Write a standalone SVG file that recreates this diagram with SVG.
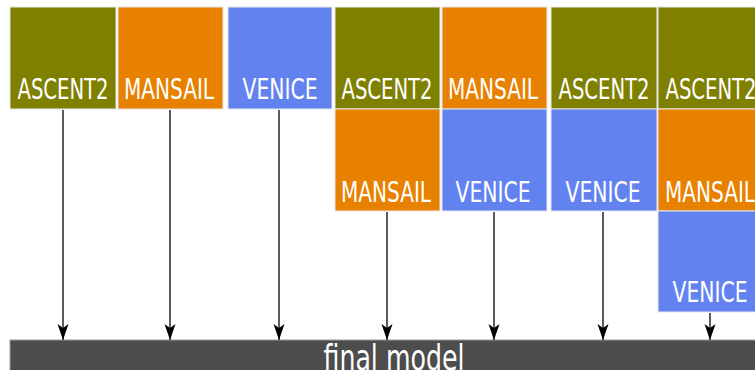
<svg xmlns="http://www.w3.org/2000/svg" width="755" height="370" viewBox="0 0 755 370">
<style>
.box{stroke:#e8e8e8;stroke-width:1}
.a{fill:#7f7f00}.m{fill:#e88000}.v{fill:#6282ef}
.t{font-family:"DejaVu Sans Condensed","DejaVu Sans",sans-serif;font-stretch:condensed;font-size:28px;fill:#fff;text-anchor:middle}
.c{stroke:#333;stroke-width:1.6;fill:none;marker-end:url(#ah)}
</style>
<defs>
<marker id="ah" markerUnits="userSpaceOnUse" markerWidth="18" markerHeight="12" refX="16" refY="5.5" orient="auto">
<path d="M0,0 L16,5.5 L0,11 L4,5.5 Z" fill="#000"/>
</marker>
</defs>
<rect width="755" height="370" fill="#fff"/>
<g id="final">
<rect x="10" y="340" width="760" height="40" fill="#4d4d4d" stroke="#999" stroke-width="1"/>
<text x="394" y="370" font-family="DejaVu Sans Condensed,DejaVu Sans,sans-serif" font-stretch="condensed" font-size="36" fill="#fff" text-anchor="middle" textLength="141" lengthAdjust="spacingAndGlyphs">final model</text>
</g>
<g id="col1">
<rect class="box a" x="10" y="7" width="106" height="102"/>
<text class="t" x="63" y="99" textLength="91" lengthAdjust="spacingAndGlyphs">ASCENT2</text>
</g>
<g id="col2">
<rect class="box m" x="118" y="7" width="105" height="102"/>
<text class="t" x="169" y="99" textLength="90" lengthAdjust="spacingAndGlyphs">MANSAIL</text>
</g>
<g id="col3">
<rect class="box v" x="228" y="7" width="104" height="102"/>
<text class="t" x="280" y="99" textLength="75" lengthAdjust="spacingAndGlyphs">VENICE</text>
</g>
<g id="col4">
<rect class="box a" x="335" y="7" width="105" height="102"/>
<text class="t" x="387" y="99" textLength="91" lengthAdjust="spacingAndGlyphs">ASCENT2</text>
<rect class="box m" x="335" y="109" width="105" height="102"/>
<text class="t" x="386" y="202" textLength="90" lengthAdjust="spacingAndGlyphs">MANSAIL</text>
</g>
<g id="col5">
<rect class="box m" x="442" y="7" width="105" height="102"/>
<text class="t" x="493" y="99" textLength="90" lengthAdjust="spacingAndGlyphs">MANSAIL</text>
<rect class="box v" x="442" y="109" width="105" height="102"/>
<text class="t" x="493" y="202" textLength="75" lengthAdjust="spacingAndGlyphs">VENICE</text>
</g>
<g id="col6">
<rect class="box a" x="551" y="7" width="106" height="102"/>
<text class="t" x="604" y="99" textLength="91" lengthAdjust="spacingAndGlyphs">ASCENT2</text>
<rect class="box v" x="551" y="109" width="106" height="102"/>
<text class="t" x="603" y="202" textLength="75" lengthAdjust="spacingAndGlyphs">VENICE</text>
</g>
<g id="col7">
<rect class="box a" x="658" y="7" width="106" height="102"/>
<text class="t" x="711" y="99" textLength="91" lengthAdjust="spacingAndGlyphs">ASCENT2</text>
<rect class="box m" x="658" y="109" width="106" height="102"/>
<text class="t" x="710" y="202" textLength="90" lengthAdjust="spacingAndGlyphs">MANSAIL</text>
<rect class="box v" x="658" y="211" width="106" height="101"/>
<text class="t" x="710" y="302" textLength="75" lengthAdjust="spacingAndGlyphs">VENICE</text>
</g>
<g id="connectors">
<line class="c" x1="63" y1="110" x2="63" y2="340"/>
<line class="c" x1="170" y1="110" x2="170" y2="340"/>
<line class="c" x1="279" y1="110" x2="279" y2="340"/>
<line class="c" x1="387" y1="212" x2="387" y2="340"/>
<line class="c" x1="494" y1="212" x2="494" y2="340"/>
<line class="c" x1="603" y1="212" x2="603" y2="340"/>
<line class="c" x1="710" y1="313" x2="710" y2="340"/>
</g>
</svg>
